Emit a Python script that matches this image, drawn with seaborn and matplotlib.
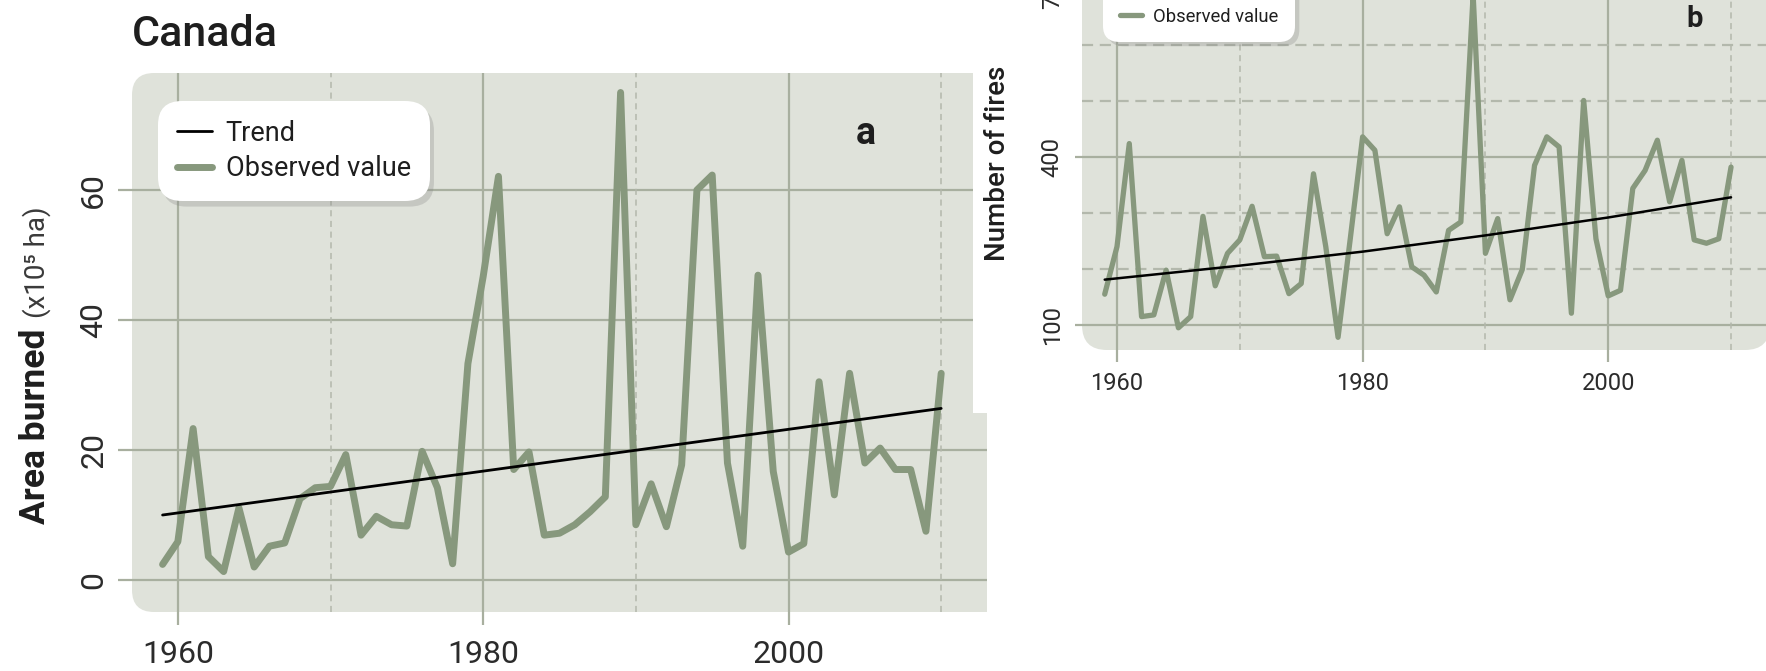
import pandas as pd
import seaborn as sns
import matplotlib.pyplot as plt
from matplotlib.patches import FancyBboxPatch, Rectangle

# yearly values (1959-2010)
years = list(range(1959, 2011))
area_burned = [2.4, 5.9, 23.3, 3.6, 1.3, 11.1, 2.0, 5.2, 5.7, 12.5,
               14.2, 14.4, 19.3, 6.9, 9.8, 8.5, 8.3, 19.8, 14.2, 2.5,
               33.3, 46.7, 62.1, 17.0, 19.7, 6.9, 7.2, 8.5, 10.5, 12.8,
               75.0, 8.5, 14.8, 8.2, 17.7, 60.0, 62.3, 18.0, 5.2, 46.9,
               16.7, 4.3, 5.6, 30.5, 13.1, 31.8, 18.0, 20.3, 17.0, 17.0,
               7.5, 31.8]
fires = [155, 240, 424, 115, 118, 198, 95, 115, 294, 170,
         228, 252, 312, 222, 223, 156, 174, 370, 240, 78,
         255, 436, 412, 263, 311, 204, 189, 159, 269, 284,
         690, 228, 290, 145, 199, 385, 436, 418, 121, 501,
         254, 152, 162, 344, 376, 430, 320, 394, 252, 246,
         254, 382]

# trend lines
trend_years_a = [1959, 2010]
trend_area = [10.0, 26.4]
trend_years_b = [1959, 1970, 1980, 1990, 2000, 2010]
trend_fires = [181, 206, 231, 260, 292, 328]

year_ticks = [1960, 1980, 2000]
year_minor = [1970, 1990, 2010]
area_ticks = [0, 20, 40, 60]
fire_ticks = [100, 400, 700]
fire_minor = [200, 300, 500, 600]

GREEN = '#87987d'
BG = '#dfe2da'
GRID = '#a8af9f'
DASH = '#b3b8ac'
TXT = '#2b2b2b'

sns.set_theme(style='white')
plt.rcParams['font.family'] = ['Roboto', 'DejaVu Sans']

W, H = 1766, 671
fig = plt.figure(figsize=(W / 100, H / 100), dpi=100)
fig.patch.set_facecolor('white')


def rect(x0, y0, x1, y1):
    # pixel box (top-left origin) -> figure fraction
    return [x0 / W, 1 - y1 / H, (x1 - x0) / W, (y1 - y0) / H]


def panel(ax, bg, rounding, xlim, ylim, dash_y=None):
    x0, y0, x1, y1 = bg
    ax.set_facecolor('none')
    ax.add_patch(FancyBboxPatch((x0 / 100, (H - y1) / 100), (x1 - x0) / 100, (y1 - y0) / 100,
                                boxstyle=f'round,pad=0,rounding_size={rounding}',
                                transform=fig.dpi_scale_trans, facecolor=BG,
                                edgecolor='none', zorder=0))
    for s in ax.spines.values():
        s.set_visible(False)
    ax.set_axisbelow(True)
    ax.grid(True, color=GRID, lw=1.6)
    for yr in year_minor:
        ax.axvline(yr, ymin=dash_y, ymax=1, color=DASH, lw=1.1, ls=(0, (4, 3)), zorder=0.6)
    ax.set_xlim(*xlim)
    ax.set_ylim(*ylim)
    ax.set_xlabel('')
    ax.set_ylabel('')


def white_legend(leg):
    leg.get_frame().set_boxstyle('round,pad=0,rounding_size=0.9')
    leg.get_frame().set_facecolor('white')
    leg.get_frame().set_edgecolor('none')
    for t in leg.get_texts():
        t.set_color('#1e1e1e')


# ---- panel a : area burned
ax_a = fig.add_axes(rect(118, 73, 987, 625))
df_a = pd.DataFrame({'year': years, 'area': area_burned})
sns.lineplot(data=df_a, x='year', y='area', ax=ax_a, color=GREEN, lw=5, zorder=3)
sns.lineplot(x=trend_years_a, y=trend_area, ax=ax_a, color='black', lw=2, zorder=4)
ax_a.set_xticks(year_ticks)
ax_a.set_yticks(area_ticks)
panel(ax_a, (132, 73, 1010, 612), 0.22, (1956.08, 2013.0), (-6.92, 78.0),
      dash_y=(625 - 612) / 552)
ax_a.tick_params(length=0, labelsize=23, colors=TXT)
ax_a.tick_params(axis='x', pad=11)
ax_a.tick_params(axis='y', pad=7, labelrotation=90)
for lab in ax_a.get_yticklabels():
    lab.set_va('center')

obs_a, tr_a = ax_a.lines[0], ax_a.lines[1]
leg = ax_a.legend([tr_a, obs_a], ['Trend', 'Observed value'], loc='upper left',
                  bbox_to_anchor=(158 / W, 1 - 101 / H), bbox_transform=fig.transFigure,
                  borderaxespad=0, fontsize=19.5, handlelength=1.3, handletextpad=0.5,
                  borderpad=0.7, labelspacing=0.3, frameon=True, fancybox=True,
                  framealpha=1, shadow={'ox': 3, 'oy': -4, 'facecolor': '#8a8a8a',
                                        'edgecolor': 'none', 'alpha': 0.3})
white_legend(leg)

# white block that the second panel sits in
fig.add_artist(Rectangle((973 / W, 1 - 413 / H), 1, 413 / H, transform=fig.transFigure,
                         facecolor='white', edgecolor='none', zorder=1))
fig.add_artist(Rectangle((987 / W, 0), 1, 1 - 413 / H, transform=fig.transFigure,
                         facecolor='white', edgecolor='none', zorder=1))

# ---- panel b : number of fires
ax_b = fig.add_axes(rect(1075, -60, 1768, 362))
ax_b.set_zorder(2)
df_b = pd.DataFrame({'year': years, 'fires': fires})
sns.lineplot(data=df_b, x='year', y='fires', ax=ax_b, color=GREEN, lw=3.8, zorder=3)
sns.lineplot(x=trend_years_b, y=trend_fires, ax=ax_b, color='black', lw=1.8, zorder=4)
ax_b.set_xticks(year_ticks)
ax_b.set_yticks(fire_ticks)
panel(ax_b, (1082, -100, 1770, 350), 0.25, (1956.58, 2013.01), (33.93, 787.5),
      dash_y=(362 - 350) / 422)
for v in fire_minor:
    ax_b.axhline(v, xmin=(1082 - 1075) / 693, color=DASH, lw=1.6, ls=(0, (5, 3)), zorder=0.6)
ax_b.tick_params(length=0, labelsize=17, colors=TXT)
ax_b.tick_params(axis='x', pad=7.5)
ax_b.tick_params(axis='y', pad=8, labelrotation=90)
for lab in ax_b.get_yticklabels():
    lab.set_va('center')

obs_b, tr_b = ax_b.lines[0], ax_b.lines[1]
leg_b = ax_b.legend([tr_b, obs_b], ['Trend', 'Observed value'], loc='lower left',
                    bbox_to_anchor=(1103 / W, 1 - 42 / H), bbox_transform=fig.transFigure,
                    borderaxespad=0, fontsize=13.2, handlelength=1.2, handletextpad=0.65,
                    borderpad=0.9, labelspacing=0.3, frameon=True, fancybox=True,
                    framealpha=1, shadow={'ox': 3, 'oy': -3, 'facecolor': '#8a8a8a',
                                          'edgecolor': 'none', 'alpha': 0.3})
white_legend(leg_b)

# ---- texts
fig.text(132 / W, 1 - 34 / H, 'Canada', fontsize=31, fontweight='medium',
         color='#1e1e1e', ha='left', va='center')
# y label of panel a: bold part + unit, sharing one baseline
fig.text(45 / W, 1 - 524 / H, 'Area burned', fontsize=25.5, fontweight='bold',
         color='#1e1e1e', rotation=90, rotation_mode='anchor', ha='left', va='baseline')
fig.text(45 / W, 1 - 318 / H, '(x10⁵ ha)', fontsize=20, color='#3a3a3a',
         rotation=90, rotation_mode='anchor', ha='left', va='baseline')
fig.text(997 / W, 1 - 163 / H, 'Number of fires', fontsize=20, fontweight='medium',
         color='#1e1e1e', rotation=90, ha='center', va='center', zorder=5)
fig.text(866 / W, 1 - 133 / H, 'a', fontsize=27, fontweight='bold',
         color='#1e1e1e', ha='center', va='center')
fig.text(1695 / W, 1 - 19 / H, 'b', fontsize=21, fontweight='bold',
         color='#1e1e1e', ha='center', va='center', zorder=5)

fig.savefig('out.png', dpi=100, facecolor='white')
